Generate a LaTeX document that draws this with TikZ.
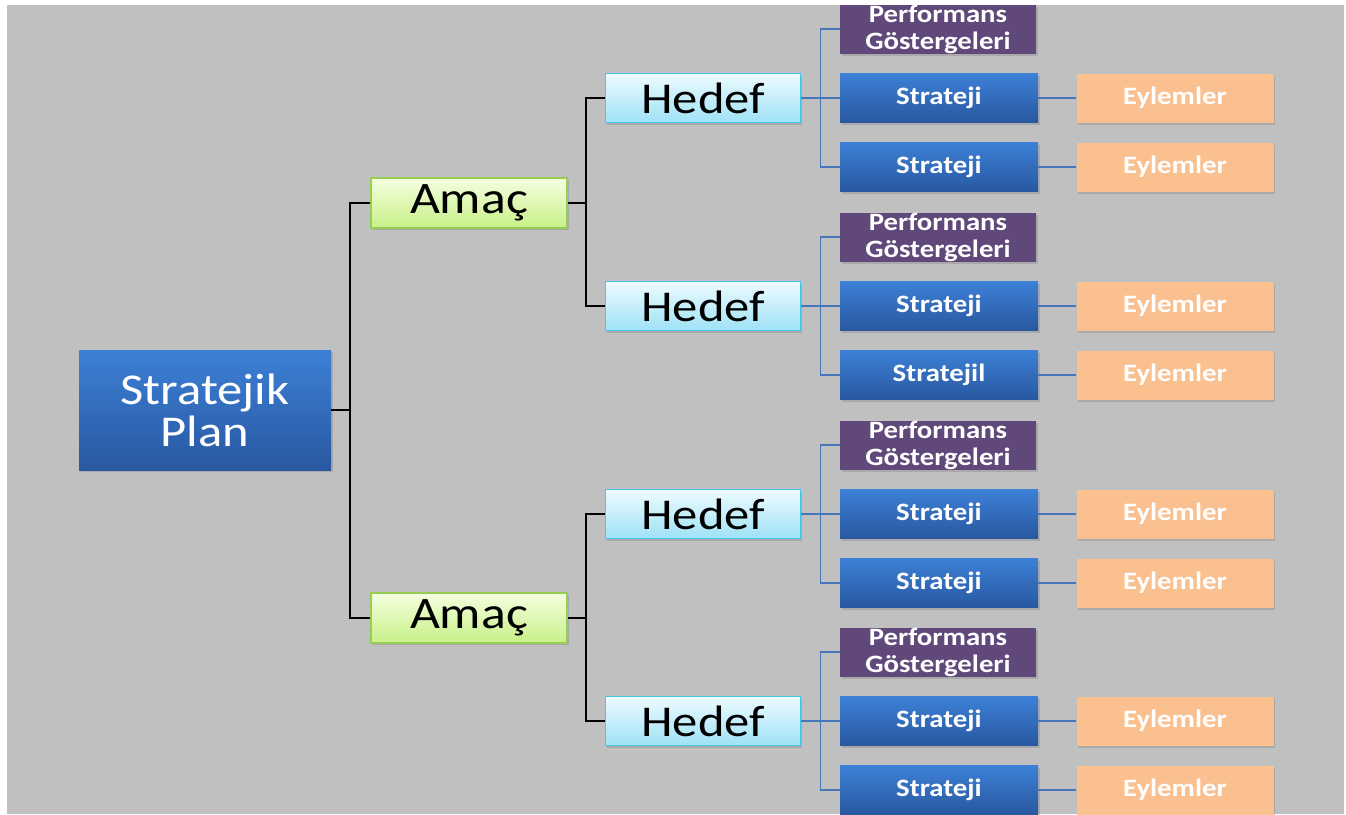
\documentclass[tikz,border=0pt]{standalone}
\usepackage{fontspec}
\setmainfont{Carlito}[FakeStretch=1.15]
\usetikzlibrary{shadows}

\definecolor{bgGrey}{RGB}{192,192,192}
\definecolor{blueTop}{RGB}{60,128,214}
\definecolor{blueBot}{RGB}{41,88,160}
\definecolor{amacTop}{RGB}{244,255,224}
\definecolor{amacBot}{RGB}{200,240,135}
\definecolor{amacLine}{RGB}{150,205,85}
\definecolor{hedefTop}{RGB}{238,251,255}
\definecolor{hedefBot}{RGB}{158,226,246}
\definecolor{hedefLine}{RGB}{70,200,232}
\definecolor{perfPurple}{RGB}{96,73,122}
\definecolor{eylemPeach}{RGB}{250,192,144}
\definecolor{linkBlue}{RGB}{72,118,186}

\tikzset{
  box/.style={rectangle, inner sep=0pt, align=center,
    drop shadow={shadow xshift=1.5pt, shadow yshift=-2pt, opacity=.35}},
  planbox/.style={box, minimum width=252pt, minimum height=120pt,
    top color=blueTop, bottom color=blueBot, text=white,
    font=\fontsize{44}{42}\selectfont},
  amacbox/.style={box, minimum width=196pt, minimum height=50pt,
    top color=amacTop, bottom color=amacBot, draw=amacLine, line width=1.5pt,
    font=\fontsize{45}{48}\selectfont},
  hedefbox/.style={box, minimum width=195pt, minimum height=49pt,
    top color=hedefTop, bottom color=hedefBot, draw=hedefLine, line width=1.5pt,
    font=\fontsize{44}{48}\selectfont},
  perfbox/.style={box, minimum width=196pt, minimum height=49pt,
    fill=perfPurple, text=white, font=\bfseries\fontsize{25}{27}\selectfont},
  stratbox/.style={box, minimum width=198pt, minimum height=49pt,
    top color=blueTop, bottom color=blueBot, text=white,
    font=\bfseries\fontsize{25}{28}\selectfont},
  eylembox/.style={box, minimum width=197pt, minimum height=49pt,
    fill=eylemPeach, text=white, font=\bfseries\fontsize{25}{28}\selectfont},
  trunk/.style={draw=black, line width=2.5pt},
  twig/.style={draw=linkBlue, line width=1.2pt},
}

\begin{document}
\begin{tikzpicture}[x=1pt,y=-1pt]

  \useasboundingbox (0,0) rectangle (1346,814);
  \fill[bgGrey] (7,5) rectangle (1344,814);

  % main levels
  \node[planbox] (plan) at (205,410) {Stratejik\\Plan};
  \node[amacbox] (amac1) at (469,203) {Ama\c{c}};
  \node[amacbox] (amac2) at (469,618) {Ama\c{c}};

  \node[hedefbox] (hedef1) at (703,98)  {Hedef};
  \node[hedefbox] (hedef2) at (703,306) {Hedef};
  \node[hedefbox] (hedef3) at (703,514) {Hedef};
  \node[hedefbox] (hedef4) at (703,721) {Hedef};

  % performans, strateji, eylemler
  \node[perfbox] (perf1) at (938,29)  {Performans\\G\"ostergeleri};
  \node[perfbox] (perf2) at (938,237) {Performans\\G\"ostergeleri};
  \node[perfbox] (perf3) at (938,445) {Performans\\G\"ostergeleri};
  \node[perfbox] (perf4) at (938,652) {Performans\\G\"ostergeleri};

  \node[stratbox] (str1a) at (939,98)  {Strateji};
  \node[stratbox] (str1b) at (939,167) {Strateji};
  \node[stratbox] (str2a) at (939,306) {Strateji};
  \node[stratbox] (str2b) at (939,375) {Stratejil};
  \node[stratbox] (str3a) at (939,514) {Strateji};
  \node[stratbox] (str3b) at (939,583) {Strateji};
  \node[stratbox] (str4a) at (939,721) {Strateji};
  \node[stratbox] (str4b) at (939,790) {Strateji};

  \node[eylembox] (eyl1a) at (1175,98)  {Eylemler};
  \node[eylembox] (eyl1b) at (1175,167) {Eylemler};
  \node[eylembox] (eyl2a) at (1175,306) {Eylemler};
  \node[eylembox] (eyl2b) at (1175,375) {Eylemler};
  \node[eylembox] (eyl3a) at (1175,514) {Eylemler};
  \node[eylembox] (eyl3b) at (1175,583) {Eylemler};
  \node[eylembox] (eyl4a) at (1175,721) {Eylemler};
  \node[eylembox] (eyl4b) at (1175,790) {Eylemler};

  % black connectors
  \path[trunk] (plan.east) -- ++(19,0) coordinate (j0) |- (amac1.west);
  \path[trunk] (j0) |- (amac2.west);
  \path[trunk] (amac1.east) -- ++(18,0) coordinate (j1) |- (hedef1.west);
  \path[trunk] (j1) |- (hedef2.west);
  \path[trunk] (amac2.east) -- ++(18,0) coordinate (j2) |- (hedef3.west);
  \path[trunk] (j2) |- (hedef4.west);

  % blue connectors
  \path[twig] (hedef1.east) -- ++(19,0) coordinate (b1) |- (perf1.west);
  \path[twig] (b1) -- (str1a.west);
  \path[twig] (b1) |- (str1b.west);
  \path[twig] (hedef2.east) -- ++(19,0) coordinate (b2) |- (perf2.west);
  \path[twig] (b2) -- (str2a.west);
  \path[twig] (b2) |- (str2b.west);
  \path[twig] (hedef3.east) -- ++(19,0) coordinate (b3) |- (perf3.west);
  \path[twig] (b3) -- (str3a.west);
  \path[twig] (b3) |- (str3b.west);
  \path[twig] (hedef4.east) -- ++(19,0) coordinate (b4) |- (perf4.west);
  \path[twig] (b4) -- (str4a.west);
  \path[twig] (b4) |- (str4b.west);

  \path[twig] (str1a) -- (eyl1a);
  \path[twig] (str1b) -- (eyl1b);
  \path[twig] (str2a) -- (eyl2a);
  \path[twig] (str2b) -- (eyl2b);
  \path[twig] (str3a) -- (eyl3a);
  \path[twig] (str3b) -- (eyl3b);
  \path[twig] (str4a) -- (eyl4a);
  \path[twig] (str4b) -- (eyl4b);

\end{tikzpicture}
\end{document}
